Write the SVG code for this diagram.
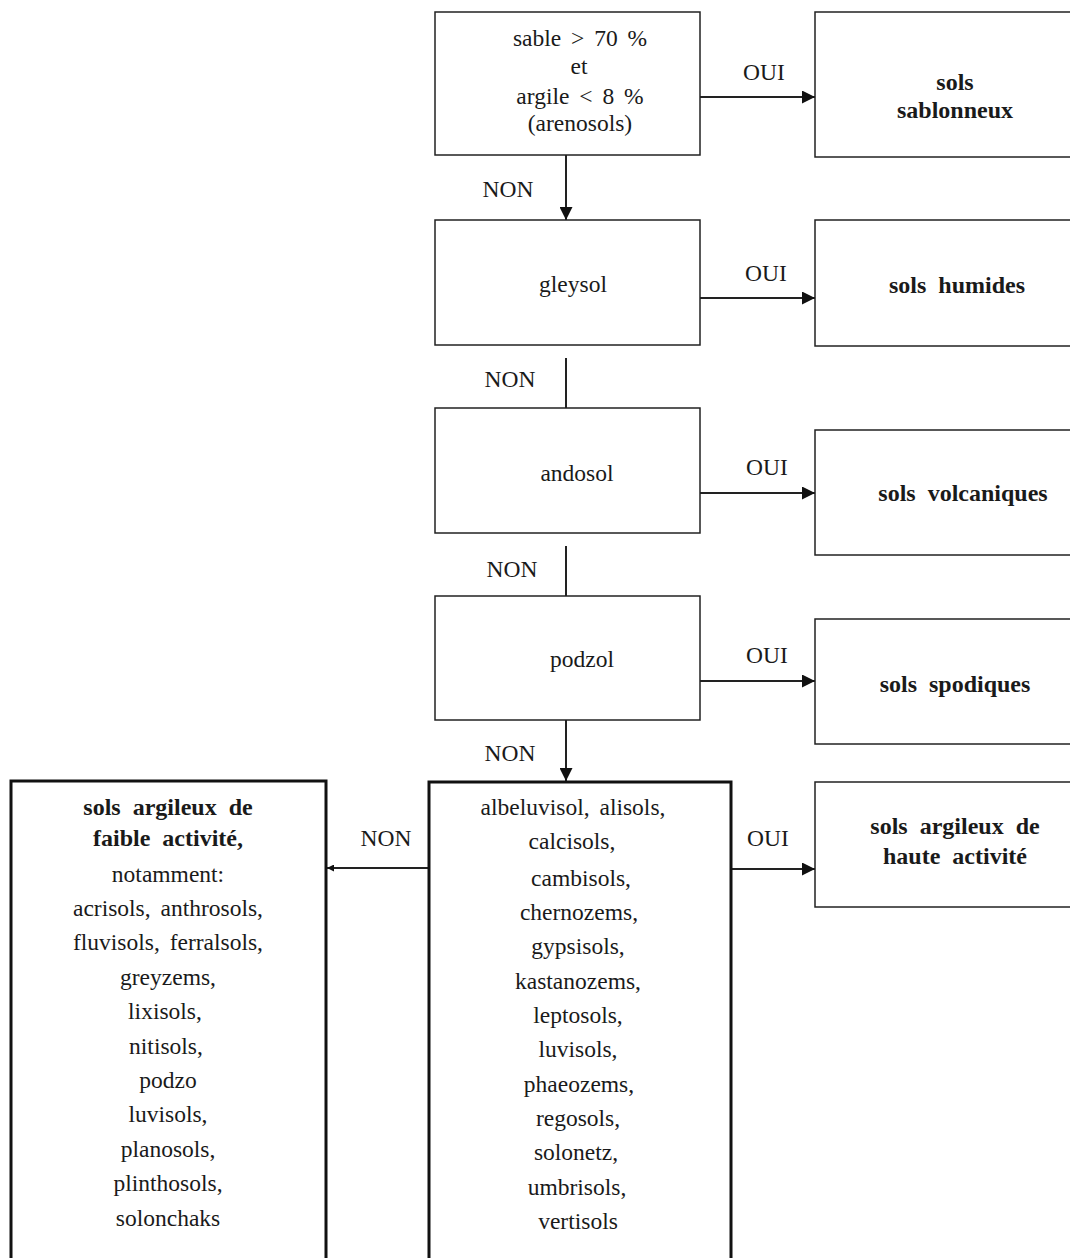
<svg xmlns="http://www.w3.org/2000/svg" width="1070" height="1258" viewBox="0 0 1070 1258">
<defs>
<style>
text{font-family:"Liberation Serif","DejaVu Serif",serif;font-size:23.5px;word-spacing:4px;fill:#1a1a1a;text-anchor:middle}
.b{font-weight:bold;font-size:24px;word-spacing:6px}
.box{fill:#fff;stroke:#222;stroke-width:1.5}
.thick{fill:#fff;stroke:#111;stroke-width:3}
.ln{stroke:#222;stroke-width:2;fill:none}
</style>
<marker id="ah" viewBox="0 0 10 10" refX="10" refY="5" markerWidth="13" markerHeight="13" markerUnits="userSpaceOnUse" orient="auto">
<path d="M0,0 L10,5 L0,10 z" fill="#111"/>
</marker>
<marker id="ahs" viewBox="0 0 10 10" refX="10" refY="5" markerWidth="7" markerHeight="7" markerUnits="userSpaceOnUse" orient="auto">
<path d="M0,0 L10,5 L0,10 z" fill="#111"/>
</marker>
</defs>
<rect width="1070" height="1258" fill="#fff"/>
<g id="connectors">
<line class="ln" x1="700" y1="97" x2="815" y2="97" marker-end="url(#ah)"/>
<line class="ln" x1="566" y1="155" x2="566" y2="220" marker-end="url(#ah)"/>
<line class="ln" x1="700" y1="298" x2="815" y2="298" stroke-width="3" marker-end="url(#ah)"/>
<line class="ln" x1="566" y1="358" x2="566" y2="408"/>
<line class="ln" x1="700" y1="493" x2="815" y2="493" marker-end="url(#ah)"/>
<line class="ln" x1="566" y1="546" x2="566" y2="596"/>
<line class="ln" x1="700" y1="681" x2="815" y2="681" marker-end="url(#ah)"/>
<line class="ln" x1="566" y1="720" x2="566" y2="781" marker-end="url(#ah)"/>
<line class="ln" x1="731" y1="869" x2="815" y2="869" stroke-width="3" marker-end="url(#ah)"/>
<line class="ln" x1="428" y1="868" x2="327" y2="868" stroke-width="3" marker-end="url(#ahs)"/>
<text x="764" y="80">OUI</text>
<text x="508" y="197">NON</text>
<text x="766" y="281">OUI</text>
<text x="510" y="387">NON</text>
<text x="767" y="475">OUI</text>
<text x="512" y="577">NON</text>
<text x="767" y="663">OUI</text>
<text x="510" y="761">NON</text>
<text x="386" y="846">NON</text>
<text x="768" y="846">OUI</text>
</g>
<g id="n-sable">
<rect class="box" x="435" y="12" width="265" height="143"/>
<text x="580" y="46">sable &gt; 70 %</text>
<text x="579" y="74">et</text>
<text x="580" y="104">argile &lt; 8 %</text>
<text x="580" y="131">(arenosols)</text>
</g>
<g id="n-sablonneux">
<rect class="box" x="815" y="12" width="262" height="145"/>
<text class="b" x="955" y="90">sols</text>
<text class="b" x="955" y="118">sablonneux</text>
</g>
<g id="n-gleysol">
<rect class="box" x="435" y="220" width="265" height="125"/>
<text x="573" y="292">gleysol</text>
</g>
<g id="n-humides">
<rect class="box" x="815" y="220" width="262" height="126"/>
<text class="b" x="957" y="293">sols humides</text>
</g>
<g id="n-andosol">
<rect class="box" x="435" y="408" width="265" height="125"/>
<text x="577" y="481">andosol</text>
</g>
<g id="n-volcaniques">
<rect class="box" x="815" y="430" width="262" height="125"/>
<text class="b" x="963" y="501">sols volcaniques</text>
</g>
<g id="n-podzol">
<rect class="box" x="435" y="596" width="265" height="124"/>
<text x="582" y="667">podzol</text>
</g>
<g id="n-spodiques">
<rect class="box" x="815" y="619" width="262" height="125"/>
<text class="b" x="955" y="692">sols spodiques</text>
</g>
<g id="n-liste">
<rect class="thick" x="429" y="782" width="302" height="490"/>
<text x="573" y="815">albeluvisol, alisols,</text>
<text x="572" y="849">calcisols,</text>
<text x="581" y="886">cambisols,</text>
<text x="579" y="920">chernozems,</text>
<text x="578" y="954">gypsisols,</text>
<text x="578" y="989">kastanozems,</text>
<text x="578" y="1023">leptosols,</text>
<text x="578" y="1057">luvisols,</text>
<text x="579" y="1092">phaeozems,</text>
<text x="578" y="1126">regosols,</text>
<text x="576" y="1160">solonetz,</text>
<text x="577" y="1195">umbrisols,</text>
<text x="578" y="1229">vertisols</text>
</g>
<g id="n-faible">
<rect class="thick" x="11" y="781" width="315" height="490"/>
<text class="b" x="168" y="815">sols argileux de</text>
<text class="b" x="168" y="846">faible activité,</text>
<text x="168" y="882">notamment:</text>
<text x="168" y="916">acrisols, anthrosols,</text>
<text x="168" y="950">fluvisols, ferralsols,</text>
<text x="168" y="985">greyzems,</text>
<text x="165" y="1019">lixisols,</text>
<text x="166" y="1054">nitisols,</text>
<text x="168" y="1088">podzo</text>
<text x="168" y="1122">luvisols,</text>
<text x="168" y="1157">planosols,</text>
<text x="168" y="1191">plinthosols,</text>
<text x="168" y="1226">solonchaks</text>
</g>
<g id="n-haute">
<rect class="box" x="815" y="782" width="262" height="125"/>
<text class="b" x="955" y="834">sols argileux de</text>
<text class="b" x="955" y="864">haute activité</text>
</g>
</svg>
